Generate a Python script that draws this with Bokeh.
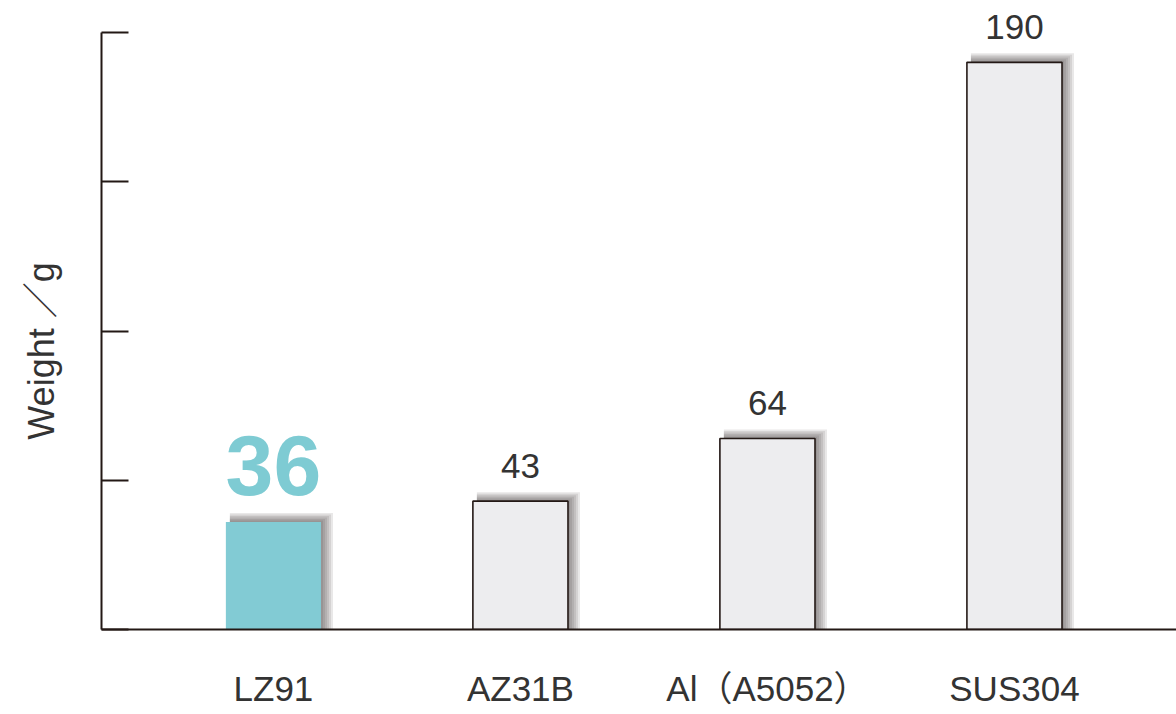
from bokeh.plotting import figure
from bokeh.models import Range1d, FixedTicker, ColumnDataSource, LabelSet
from bokeh.core.properties import value
from bokeh.embed import file_html
from bokeh.resources import INLINE

categories = ["LZ91", "AZ31B", "Al\uff08A5052\uff09", "SUS304"]
weights = [36, 43, 64, 190]
bar_colors = ["#82cbd4", "#ededef", "#ededef", "#ededef"]
bar_lines = [None, "#231815", "#231815", "#231815"]
y_ticks = [0, 50, 100, 150, 200]

FONT = "Liberation Sans"
LABEL_FONT = "Liberation Sans, Noto Sans CJK JP"
AX = "#231815"
TXT = "#333333"

W, H = 1176, 714
BOTTOM = 85
FRAME_H = H - BOTTOM          # frame reaches the top edge so top labels are not clipped
AXIS_H = 597                  # pixel height of the 0..200 axis
y_end = y_ticks[-1] * FRAME_H / AXIS_H

p = figure(width=W, height=H, output_backend="svg", toolbar_location=None,
           x_range=Range1d(-0.696, 3.656), y_range=Range1d(0, y_end),
           min_border_left=101, min_border_top=0, min_border_right=0, min_border_bottom=BOTTOM)
p.outline_line_color = None
p.xgrid.visible = False
p.ygrid.visible = False
p.background_fill_color = "white"
p.border_fill_color = "white"

xs = list(range(len(categories)))
bw = 0.385
px_x = 1 / 247.0
px_y = y_ticks[-1] / AXIS_H

# soft drop shadows
for s in [2, 4, 6, 8, 10, 12]:
    p.quad(left=[x - bw / 2 + 4 * px_x for x in xs],
           right=[x + bw / 2 + s * px_x for x in xs],
           top=[v + s * 0.75 * px_y for v in weights],
           bottom=[0] * len(xs),
           fill_color="#3a2e2e", fill_alpha=0.11, line_color=None)

src = ColumnDataSource(dict(x=xs, top=weights, fill=bar_colors,
                            line=[c if c else "#82cbd4" for c in bar_lines],
                            lw=[0 if c is None else 1.6 for c in bar_lines]))
p.vbar(x="x", top="top", width=bw, bottom=0, source=src,
       fill_color="fill", line_color="line", line_width="lw")

# value labels
grey_src = ColumnDataSource(dict(x=xs[1:], y=weights[1:], t=[str(v) for v in weights[1:]]))
p.add_layout(LabelSet(x="x", y="y", text="t", source=grey_src,
                      text_font=value(FONT), text_font_size=value("35px"),
                      text_color=value(TXT), text_align=value("center"),
                      text_baseline=value("alphabetic"), y_offset=value(23)))
hi_src = ColumnDataSource(dict(x=xs[:1], y=weights[:1], t=[str(v) for v in weights[:1]]))
p.add_layout(LabelSet(x="x", y="y", text="t", source=hi_src,
                      text_font=value(FONT), text_font_size=value("86px"),
                      text_color=value("#7ecbd3"), text_font_style=value("bold"),
                      text_align=value("center"), text_baseline=value("alphabetic"),
                      y_offset=value(27)))

# axes
xa = p.xaxis[0]
xa.ticker = FixedTicker(ticks=xs)
xa.major_label_overrides = {i: c for i, c in enumerate(categories)}
xa.major_tick_in = 0
xa.major_tick_out = 0
xa.minor_tick_in = 0
xa.minor_tick_out = 0
xa.axis_line_color = AX
xa.axis_line_width = 2
xa.major_label_text_font = LABEL_FONT
xa.major_label_text_font_size = "35px"
xa.major_label_text_color = TXT
xa.major_label_standoff = 39

ya = p.yaxis[0]
ya.ticker = FixedTicker(ticks=y_ticks)
ya.bounds = (y_ticks[0], y_ticks[-1])
ya.major_label_overrides = {t: "" for t in y_ticks}
ya.major_label_standoff = 0
ya.major_tick_in = 27
ya.major_tick_out = 0
ya.minor_tick_in = 0
ya.minor_tick_out = 0
ya.major_tick_line_color = AX
ya.major_tick_line_width = 2
ya.axis_line_color = AX
ya.axis_line_width = 2
ya.axis_label = "Weight \uff0fg\u3000\u3000"
ya.axis_label_text_font = LABEL_FONT
ya.axis_label_text_font_size = "36px"
ya.axis_label_text_font_style = "normal"
ya.axis_label_text_color = TXT
ya.axis_label_standoff = 40

open("out.html", "w").write(file_html(p, INLINE))
